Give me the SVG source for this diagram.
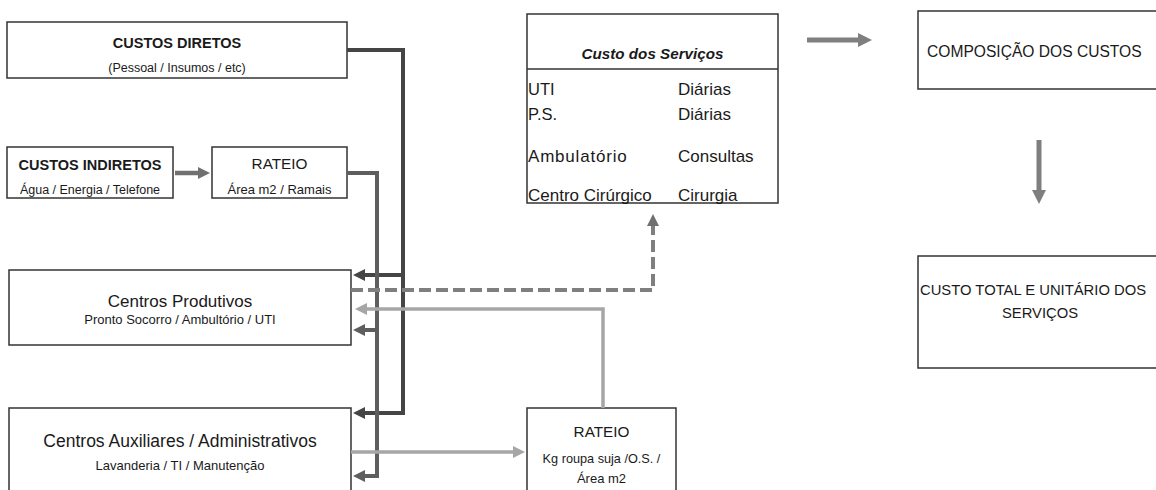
<svg xmlns="http://www.w3.org/2000/svg" width="1156" height="490" viewBox="0 0 1156 490">
<style>
.box{fill:#fff;stroke:#333;stroke-width:1.5}
text{font-family:"Liberation Sans",Arial,sans-serif;fill:#1a1a1a}
.c{text-anchor:middle}
.b{font-weight:bold}
.ln{fill:none;stroke-linejoin:miter}
</style>
<defs>
<marker id="aD" viewBox="0 0 12 12" refX="2" refY="6" markerWidth="12" markerHeight="12" markerUnits="userSpaceOnUse" orient="auto"><path d="M0,0 L12,6 L0,12 z" fill="#454545"/></marker>
<marker id="aR" viewBox="0 0 12 12" refX="2" refY="6" markerWidth="12" markerHeight="12" markerUnits="userSpaceOnUse" orient="auto"><path d="M0,0 L12,6 L0,12 z" fill="#5e5e5e"/></marker>
<marker id="aM" viewBox="0 0 14 14" refX="2" refY="7" markerWidth="14" markerHeight="14" markerUnits="userSpaceOnUse" orient="auto"><path d="M0,0 L14,7 L0,14 z" fill="#7f7f7f"/></marker>
<marker id="aG" viewBox="0 0 12 12" refX="2" refY="6" markerWidth="12" markerHeight="12" markerUnits="userSpaceOnUse" orient="auto"><path d="M0,0 L12,6 L0,12 z" fill="#707070"/></marker>
<marker id="aL" viewBox="0 0 12 12" refX="2" refY="6" markerWidth="12" markerHeight="12" markerUnits="userSpaceOnUse" orient="auto"><path d="M0,0 L12,6 L0,12 z" fill="#a6a6a6"/></marker>
</defs>
<rect width="1156" height="490" fill="#fff"/>

<g id="custos-diretos">
<rect class="box" x="7" y="22" width="340" height="56"/>
<text class="c b" x="177" y="48" font-size="14.5">CUSTOS DIRETOS</text>
<text class="c" x="177" y="72" font-size="12.5">(Pessoal / Insumos / etc)</text>
</g>

<g id="custos-indiretos">
<rect class="box" x="7" y="147" width="166" height="51"/>
<text class="c b" x="90" y="170" font-size="14.5">CUSTOS INDIRETOS</text>
<text class="c" x="90" y="194" font-size="12.5">Água / Energia / Telefone</text>
</g>

<g id="rateio1">
<rect class="box" x="212" y="147" width="135" height="51"/>
<text class="c" x="279.5" y="169" font-size="15.3">RATEIO</text>
<text class="c" x="279.5" y="194" font-size="13">Área m2 / Ramais</text>
</g>

<g id="centros-produtivos">
<rect class="box" x="9" y="270" width="342" height="75"/>
<text class="c" x="180" y="307" font-size="17">Centros Produtivos</text>
<text class="c" x="180" y="324" font-size="13">Pronto Socorro / Ambultório / UTI</text>
</g>

<g id="centros-auxiliares">
<rect class="box" x="9" y="408" width="342" height="95"/>
<text class="c" x="180" y="447" font-size="17.5">Centros Auxiliares / Administrativos</text>
<text class="c" x="180" y="470" font-size="13">Lavanderia / TI / Manutenção</text>
</g>

<g id="rateio2">
<rect class="box" x="527" y="408" width="149" height="95"/>
<text class="c" x="601.5" y="437" font-size="15.3">RATEIO</text>
<text class="c" x="601.5" y="463" font-size="12.7">Kg roupa suja /O.S. /</text>
<text class="c" x="601.5" y="483" font-size="13">Área m2</text>
</g>

<g id="custo-servicos">
<rect class="box" x="527" y="14" width="251" height="189"/>
<line x1="527" y1="69" x2="778" y2="69" stroke="#333" stroke-width="1.5"/>
<text class="c b" x="652.5" y="59" font-size="15.2" font-style="italic">Custo dos Serviços</text>
<text x="528" y="95" font-size="16.5">UTI</text>
<text x="678" y="95" font-size="17">Diárias</text>
<text x="528" y="120" font-size="16.5">P.S.</text>
<text x="678" y="120" font-size="17">Diárias</text>
<text x="528" y="162" font-size="17" letter-spacing="0.8">Ambulatório</text>
<text x="678" y="162" font-size="17">Consultas</text>
<text x="528" y="201" font-size="17">Centro Cirúrgico</text>
<text x="678" y="201" font-size="17">Cirurgia</text>
</g>

<g id="composicao">
<rect class="box" x="918" y="11" width="260" height="78"/>
<text x="927" y="57" font-size="15.6">COMPOSIÇÃO DOS CUSTOS</text>
</g>

<g id="custo-total">
<rect class="box" x="918" y="256" width="260" height="112"/>
<text x="920" y="295" font-size="14.8">CUSTO TOTAL E UNITÁRIO DOS</text>
<text class="c" x="1040" y="318" font-size="14.8">SERVIÇOS</text>
</g>

<g id="connectors">
<!-- custos diretos to centros -->
<polyline class="ln" points="347,50 403,50 403,413 363,413" stroke="#454545" stroke-width="4" marker-end="url(#aD)"/>
<line x1="403" y1="275" x2="363" y2="275" stroke="#454545" stroke-width="4" marker-end="url(#aD)"/>
<!-- rateio1 to centros -->
<polyline class="ln" points="347,173 377,173 377,476 363,476" stroke="#5e5e5e" stroke-width="4" marker-end="url(#aR)"/>
<line x1="377" y1="330" x2="363" y2="330" stroke="#5e5e5e" stroke-width="4" marker-end="url(#aR)"/>
<!-- indiretos to rateio -->
<line x1="175" y1="173" x2="200" y2="173" stroke="#707070" stroke-width="4.5" marker-end="url(#aG)"/>
<!-- dashed to custo dos servicos -->
<polyline class="ln" points="351,290 653,290 653,224" stroke="#7f7f7f" stroke-width="4" stroke-dasharray="12,5" marker-end="url(#aG)"/>
<!-- rateio2 back to produtivos -->
<polyline class="ln" points="603,408 603,309 365,309" stroke="#a6a6a6" stroke-width="3.5" marker-end="url(#aL)"/>
<!-- auxiliares to rateio2 -->
<line x1="351" y1="452" x2="515" y2="452" stroke="#a6a6a6" stroke-width="3.5" marker-end="url(#aL)"/>
<!-- servicos to composicao -->
<line x1="807" y1="40" x2="860" y2="40" stroke="#7f7f7f" stroke-width="5" marker-end="url(#aM)"/>
<!-- composicao to custo total -->
<line x1="1039" y1="140" x2="1039" y2="192" stroke="#7f7f7f" stroke-width="5" marker-end="url(#aM)"/>
</g>
</svg>
